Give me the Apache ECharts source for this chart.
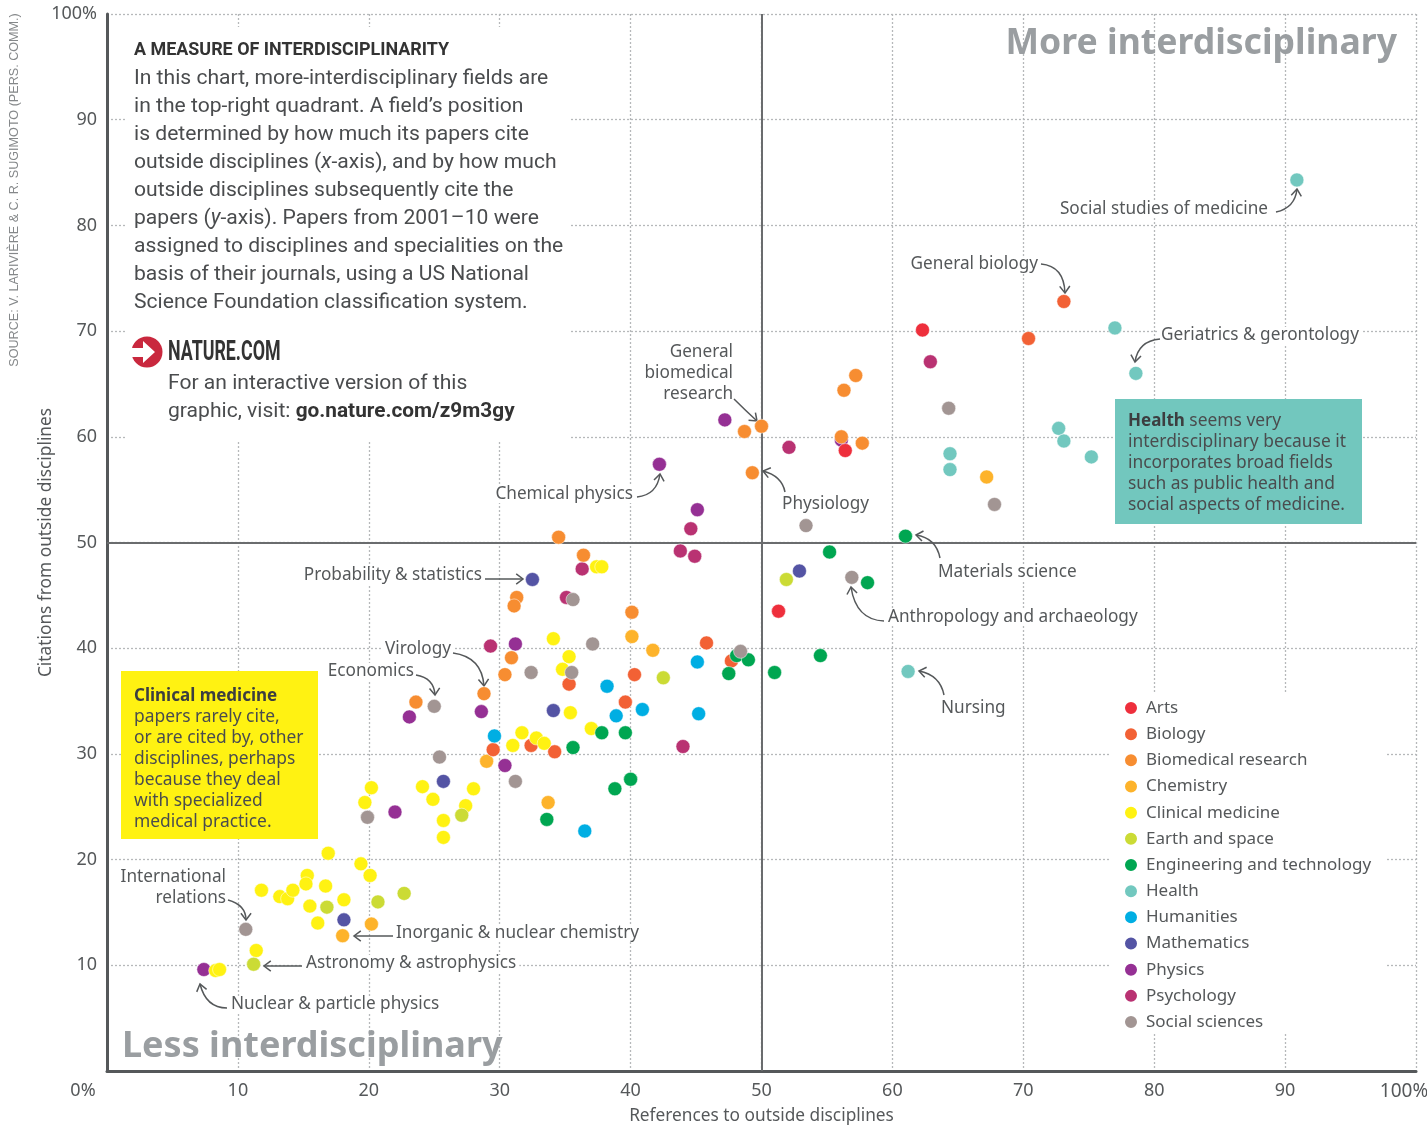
<!DOCTYPE html>
<html>
<head>
<meta charset="utf-8">
<title>A measure of interdisciplinarity</title>
<script src="https://cdn.jsdelivr.net/npm/echarts@6/dist/echarts.min.js"></script>
<style>
  html, body { margin: 0; padding: 0; background: #fff; }
  #chart { width: 1427px; height: 1125px; }
</style>
</head>
<body>
<div id="chart"></div>
<script>
// values: [references %, citations %]
const arts = [[62.3, 70.1], [56.4, 58.7], [51.3, 43.5]]
const biology = [[73.1, 72.8], [70.4, 69.3], [45.8, 40.5], [40.3, 37.5], [35.3, 36.6], [39.6, 34.9], [47.7, 38.8], [29.5, 30.4], [32.4, 30.8], [34.2, 30.2]]
const biomedical = [[50.0, 61.0], [48.7, 60.5], [49.3, 56.6], [56.1, 60.0], [57.7, 59.4], [56.3, 64.4], [57.2, 65.8], [34.5, 50.5], [36.4, 48.8], [31.3, 44.8], [31.1, 44.0], [40.1, 43.4], [30.9, 39.1], [30.4, 37.5], [28.8, 35.7], [23.6, 34.9]]
const chemistry = [[67.2, 56.2], [40.1, 41.1], [41.7, 39.8], [29.0, 29.3], [33.7, 25.4], [18.0, 12.8], [20.2, 13.9]]
const clinical = [[20.2, 26.8], [19.7, 25.4], [24.1, 26.9], [24.9, 25.7], [28.0, 26.7], [27.4, 25.1], [25.7, 23.7], [25.7, 22.1], [16.9, 20.6], [19.4, 19.6], [20.1, 18.5], [15.3, 18.5], [15.2, 17.7], [16.7, 17.5], [11.8, 17.1], [13.2, 16.5], [13.8, 16.3], [14.2, 17.1], [18.1, 16.2], [15.5, 15.6], [16.1, 14.0], [11.4, 11.4], [8.3, 9.5], [8.6, 9.6], [34.1, 40.9], [35.3, 39.2], [34.8, 38.0], [35.4, 33.9], [31.7, 32.0], [31.0, 30.8], [32.8, 31.5], [33.4, 31.0], [37.4, 47.7], [37.8, 47.7], [37.0, 32.4]]
const earth = [[51.9, 46.5], [42.5, 37.2], [27.1, 24.2], [16.8, 15.5], [20.7, 16.0], [22.7, 16.8], [11.2, 10.1]]
const engineering = [[61.0, 50.6], [55.2, 49.1], [58.1, 46.2], [54.5, 39.3], [51.0, 37.7], [47.5, 37.6], [48.1, 39.3], [49.0, 38.9], [37.8, 32.0], [39.6, 32.0], [35.6, 30.6], [40.0, 27.6], [38.8, 26.7], [33.6, 23.8]]
const health = [[90.9, 84.3], [77.0, 70.3], [78.6, 66.0], [72.7, 60.8], [73.1, 59.6], [75.2, 58.1], [64.4, 58.4], [64.4, 56.9], [61.2, 37.8]]
const humanities = [[38.2, 36.4], [38.9, 33.6], [40.9, 34.2], [45.1, 38.7], [45.2, 33.8], [29.6, 31.7], [36.5, 22.7]]
const mathematics = [[32.5, 46.5], [52.9, 47.3], [34.1, 34.1], [25.7, 27.4], [18.1, 14.3]]
const physics = [[47.2, 61.6], [56.1, 59.7], [42.2, 57.4], [45.1, 53.1], [31.2, 40.4], [28.6, 34.0], [23.1, 33.5], [30.4, 28.9], [22.0, 24.5], [7.4, 9.6]]
const psychology = [[62.9, 67.1], [52.1, 59.0], [44.6, 51.3], [43.8, 49.2], [44.9, 48.7], [36.3, 47.5], [35.1, 44.8], [29.3, 40.2], [44.0, 30.7]]
const social = [[64.3, 62.7], [67.8, 53.6], [53.4, 51.6], [56.9, 46.7], [35.6, 44.6], [37.1, 40.4], [32.4, 37.7], [35.5, 37.7], [48.4, 39.7], [25.0, 34.5], [25.4, 29.7], [31.2, 27.4], [19.9, 24.0], [10.6, 13.4]]

const legendNames = ['Arts', 'Biology', 'Biomedical research', 'Chemistry', 'Clinical medicine', 'Earth and space', 'Engineering and technology', 'Health', 'Humanities', 'Mathematics', 'Physics', 'Psychology', 'Social sciences']

// drawn in this order, physics and psychology sit underneath the others
const fields = [
  ['Physics', physics, '#953094'],
  ['Psychology', psychology, '#b93272'],
  ['Arts', arts, '#ee2f3c'],
  ['Biomedical research', biomedical, '#f78d31'],
  ['Chemistry', chemistry, '#fdb32b'],
  ['Biology', biology, '#f26135'],
  ['Clinical medicine', clinical, '#fff212'],
  ['Earth and space', earth, '#cbdb35'],
  ['Humanities', humanities, '#00aee3'],
  ['Mathematics', mathematics, '#5454a4'],
  ['Health', health, '#72c8bf'],
  ['Engineering and technology', engineering, '#00a651'],
  ['Social sciences', social, '#a29593']
]

const introLines = [
  'In this chart, more-interdisciplinary fields are',
  'in the top-right quadrant. A field\u2019s position',
  'is determined by how much its papers cite',
  'outside disciplines ({i|x}-axis), and by how much',
  'outside disciplines subsequently cite the',
  'papers ({i|y}-axis). Papers from 2001\u201310 were',
  'assigned to disciplines and specialities on the',
  'basis of their journals, using a US National',
  'Science Foundation classification system.'
]
const yellowLines = ['{b|Clinical medicine}', 'papers rarely cite,', 'or are cited by, other', 'disciplines, perhaps', 'because they deal', 'with specialized', 'medical practice.']
const tealLines = ['{b|Health} seems very', 'interdisciplinary because it', 'incorporates broad fields', 'such as public health and', 'social aspects of medicine.']

// callout text: [text, x, y, align]
const callouts = [
  ['Social studies of medicine', 1268, 208, 'right'],
  ['General biology', 1038, 263, 'right'],
  ['Geriatrics & gerontology', 1161, 334, 'left'],
  ['General', 733, 351, 'right'],
  ['biomedical', 733, 372, 'right'],
  ['research', 733, 393, 'right'],
  ['Chemical physics', 633, 493, 'right'],
  ['Physiology', 782, 503, 'left'],
  ['Materials science', 938, 571, 'left'],
  ['Anthropology and archaeology', 888, 616, 'left'],
  ['Nursing', 941, 707, 'left'],
  ['Probability & statistics', 482, 574, 'right'],
  ['Virology', 451, 648, 'right'],
  ['Economics', 414, 670, 'right'],
  ['International', 226, 876, 'right'],
  ['relations', 226, 897, 'right'],
  ['Inorganic & nuclear chemistry', 396, 932, 'left'],
  ['Astronomy & astrophysics', 306, 962, 'left'],
  ['Nuclear & particle physics', 231, 1003, 'left']
]
// leader arrows: [startX, startY, ctrlX, ctrlY, endX, endY]
const arrows = [
  [1276, 212, 1295, 208, 1297, 189],
  [1041, 264, 1064, 266, 1065, 293],
  [1160, 339, 1138, 341, 1135, 362],
  [734, 399, 745, 410, 757, 421],
  [637, 497, 657, 495, 660, 474],
  [785, 492, 782, 476, 763, 471],
  [940, 558, 936, 538, 916, 535],
  [884, 621, 856, 620, 851, 587],
  [944, 695, 940, 675, 919, 671],
  [485, 579, 504, 579, 523, 579],
  [453, 653, 482, 657, 484, 686],
  [416, 675, 434, 678, 435, 695],
  [228, 900, 246, 905, 246, 920],
  [393, 936, 373, 936, 354, 936],
  [302, 966, 283, 966, 264, 966],
  [227, 1008, 206, 1008, 200, 984]
]

const INK = '#55585a'
const BODY = '#4a4c4e'
const SANS = '"Noto Sans", sans-serif'
const TEXT_DROP = 1.5 // Noto sits a little high on verticalAlign middle

function label (text, x, y, opts) {
  return {
    type: 'text',
    z: (opts && opts.z) || 4,
    silent: true,
    style: Object.assign({
      text: text,
      x: x,
      y: y,
      verticalAlign: 'middle',
      fill: INK,
      fontFamily: SANS,
      fontSize: 17
    }, opts && opts.style)
  }
}

// heavy condensed headings, no narrow face is installed so squeeze Roboto
function narrow (text, x, y, size, squeeze) {
  return {
    type: 'text',
    z: 4,
    silent: true,
    x: x,
    y: y,
    scaleX: squeeze,
    style: { text: text, verticalAlign: 'middle', fill: '#333', fontFamily: 'Roboto', fontWeight: 'bold', fontSize: size }
  }
}

function arrow (a) {
  const dx = a[4] - a[2]
  const dy = a[5] - a[3]
  const ang = Math.atan2(dy, dx)
  const head = [ang + 2.5, ang - 2.5].map(t => [a[4] + 8.5 * Math.cos(t), a[5] + 8.5 * Math.sin(t)])
  const line = { stroke: '#55585a', lineWidth: 1.5, fill: null }
  return [
    { type: 'bezierCurve', z: 4, silent: true, shape: { x1: a[0], y1: a[1], cpx1: a[2], cpy1: a[3], x2: a[4], y2: a[5] }, style: line },
    { type: 'polyline', z: 4, silent: true, shape: { points: [head[0], [a[4], a[5]], head[1]] }, style: line }
  ]
}

function mask (x, y, width, height, fill) {
  return { type: 'rect', z: 1, silent: true, shape: { x, y, width, height }, style: { fill: fill || '#fff' } }
}

const BODY_SIZE = 21.1
const boxRich = {
  b: { fontFamily: SANS, fontSize: 17, fontWeight: 'bold', fill: '#3c3e40' }
}

const elements = [
  mask(125, 27, 445, 414),
  mask(1109, 692, 278, 341),
  mask(121, 671, 197, 168, '#fff212'),
  mask(1115, 399, 247, 125, '#72c7be')
]

introLines.forEach((t, i) => {
  elements.push(label(t, 134, 78.5 + i * 28, {
    style: { fontFamily: 'Roboto', fontSize: BODY_SIZE, fill: BODY, rich: { i: { fontFamily: 'Roboto', fontSize: BODY_SIZE, fontStyle: 'italic', fill: BODY } } }
  }))
})
elements.push(narrow('A MEASURE OF INTERDISCIPLINARITY', 134, 50, 19, 0.943))

// nature.com logo
elements.push({ type: 'circle', z: 4, silent: true, shape: { cx: 147, cy: 352, r: 15.5 }, style: { fill: '#c9283e' } })
elements.push({ type: 'polygon', z: 4, silent: true, shape: { points: [[131, 348], [143, 348], [143, 341], [155, 352], [143, 363], [143, 357], [131, 357]] }, style: { fill: '#fff' } })
elements.push(narrow('NATURE.COM', 168, 353, 27, 0.66))
elements.push(label('For an interactive version of this', 168, 383.5, { style: { fontFamily: 'Roboto', fontSize: BODY_SIZE, fill: BODY } }))
elements.push(label('graphic, visit: {b|go.nature.com/z9m3gy}', 168, 411.5, {
  style: { fontFamily: 'Roboto', fontSize: BODY_SIZE, fill: BODY, rich: { b: { fontFamily: 'Roboto', fontSize: 20.8, fontWeight: 'bold', fill: '#333' } } }
}))

yellowLines.forEach((t, i) => {
  elements.push(label(t, 134, 695 + TEXT_DROP + i * 21, { style: { fontSize: 17.4, fill: BODY, rich: boxRich } }))
})
tealLines.forEach((t, i) => {
  elements.push(label(t, 1128, 420 + TEXT_DROP + i * 21, { style: { fontSize: 17.4, fill: BODY, rich: boxRich } }))
})

callouts.forEach(c => {
  // text box has 3px of white padding, keep the glyphs on the read position
  const x = c[3] === 'left' ? c[1] - 3 : c[1] + 3
  elements.push(label(c[0], x, c[2] + TEXT_DROP, { style: { align: c[3], backgroundColor: '#fff', padding: [0, 3], fontSize: 17.2 } }))
})
arrows.forEach(a => { elements.push(...arrow(a)) })

elements.push(label('More interdisciplinary', 1397, 43.5, { style: { align: 'right', fontFamily: SANS, fontWeight: 'bold', fontSize: 35.6, fill: '#9a9ea1' } }))
elements.push(label('Less interdisciplinary', 122, 1047, { style: { fontFamily: SANS, fontWeight: 'bold', fontSize: 36, fill: '#9a9ea1' } }))

elements.push({
  type: 'text',
  z: 4,
  silent: true,
  x: 15,
  y: 190,
  rotation: Math.PI / 2,
  style: {
    text: 'SOURCE: V. LARIVI\u00c8RE & C. R. SUGIMOTO (PERS. COMM.)',
    align: 'center',
    verticalAlign: 'middle',
    fill: '#85888a',
    fontFamily: '"Liberation Sans"',
    fontSize: 12.6
  }
})

const tickStyle = { color: INK, fontFamily: SANS, fontSize: 18 }
const gridLine = { color: '#b6b8ba', type: [2, 2], width: 1.3 }

const chart = echarts.init(document.getElementById('chart'))
chart.setOption({
  backgroundColor: '#fff',
  animation: false,
  graphic: { elements: elements },
  legend: {
    left: 1123,
    top: 696,
    padding: 0,
    orient: 'vertical',
    data: legendNames,
    icon: 'circle',
    itemWidth: 14,
    itemHeight: 14,
    itemGap: 2.17,
    selectedMode: false,
    textStyle: { color: INK, fontFamily: SANS, fontSize: 17, lineHeight: 24, padding: [0, 0, 0, 3] }
  },
  grid: { left: 107, right: 11, top: 14, bottom: 54, containLabel: false, outerBoundsMode: 'none' },
  xAxis: {
    type: 'value',
    min: 0,
    max: 100,
    interval: 10,
    name: 'References to outside disciplines',
    nameLocation: 'middle',
    nameGap: 37,
    nameMoveOverlap: false,
    nameTextStyle: { color: INK, fontFamily: SANS, fontSize: 17.3 },
    axisLine: { onZero: false, lineStyle: { color: '#55585a', width: 3 } },
    axisTick: { show: false },
    axisLabel: Object.assign({
      margin: 11,
      showMaxLabel: true,
      showMinLabel: true,
      hideOverlap: false,
      formatter: function (v) {
        if (v === 0) return '{lo|0%}'
        if (v === 100) return '{hi|100%}'
        return String(v)
      },
      rich: {
        lo: { color: INK, fontFamily: SANS, fontSize: 18, padding: [0, 48, 0, 0] },
        hi: { color: INK, fontFamily: SANS, fontSize: 19, padding: [0, 24, 0, 0] }
      }
    }, tickStyle),
    splitLine: { show: true, lineStyle: gridLine }
  },
  yAxis: {
    type: 'value',
    min: 0,
    max: 100,
    interval: 10,
    name: 'Citations from outside disciplines',
    nameLocation: 'middle',
    nameGap: 52,
    nameMoveOverlap: false,
    nameTextStyle: { color: INK, fontFamily: SANS, fontSize: 17.3 },
    axisLine: { show: true, onZero: false, lineStyle: { color: '#55585a', width: 3 } },
    axisTick: { show: false },
    axisLabel: Object.assign({
      margin: 10,
      formatter: function (v) {
        if (v === 0) return ''
        return v === 100 ? '100%' : String(v)
      }
    }, tickStyle),
    splitLine: { show: true, lineStyle: gridLine }
  },
  series: fields.map((f, i) => {
    const s = {
      name: f[0],
      type: 'scatter',
      data: f[1],
      symbolSize: 14,
      itemStyle: { color: f[2], opacity: 1, borderColor: '#fff', borderWidth: 0.5 },
      z: 5 + i,
      silent: true
    }
    if (i === 0) {
      // the two 50% lines that split the quadrants
      s.markLine = {
        silent: true,
        z: 2,
        symbol: 'none',
        label: { show: false },
        lineStyle: { color: '#6a6c6e', type: 'solid', width: 2 },
        data: [{ xAxis: 50 }, { yAxis: 50 }]
      }
    }
    return s
  })
})
</script>
</body>
</html>
